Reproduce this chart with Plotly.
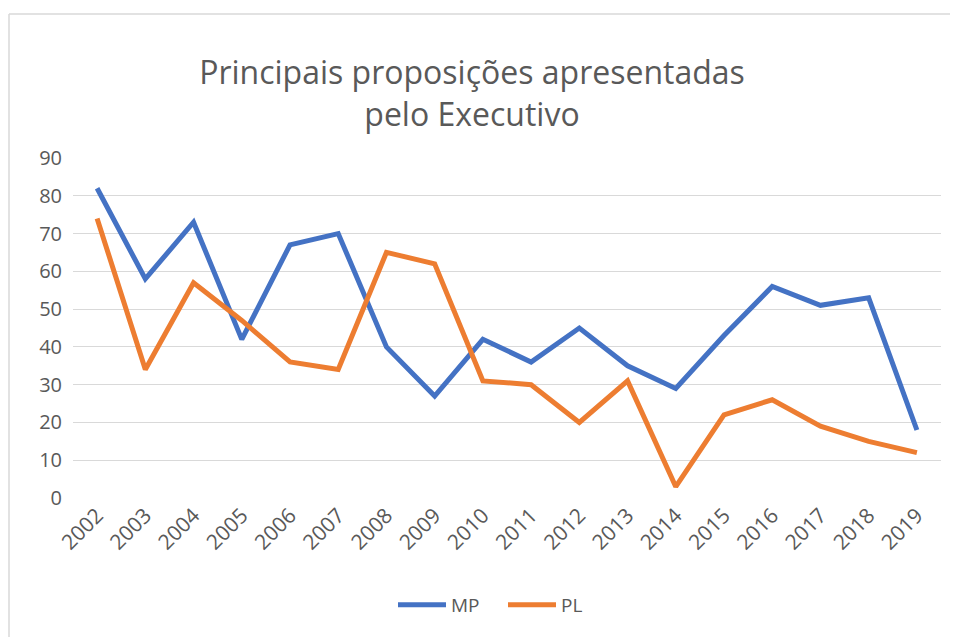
import plotly.graph_objects as go

years = [str(y) for y in range(2002, 2020)]
mp = [82, 58, 73, 42, 67, 70, 40, 27, 42, 36, 45, 35, 29, 43, 56, 51, 53, 18]
pl = [74, 34, 57, 47, 36, 34, 65, 62, 31, 30, 20, 31, 3, 22, 26, 19, 15, 12]
y_ticks = list(range(0, 100, 10))

# page offset of 8px (body margin) compensated
W, H = 950, 629
L, R, T, B = 65, 17, 150, 139
pw, ph = W - L - R, H - T - B
PLOT_LEFT_PAGE, PLOT_BOTTOM_PAGE = 73, 498

fig = go.Figure()
fig.add_trace(go.Scatter(x=years, y=mp, mode="lines", name="MP",
                         line=dict(color="#4472C4", width=5)))
fig.add_trace(go.Scatter(x=years, y=pl, mode="lines", name="PL",
                         line=dict(color="#ED7D31", width=5)))

def px_x(p):
    return (p - PLOT_LEFT_PAGE) / pw

def px_y(p):
    return (PLOT_BOTTOM_PAGE - p) / ph

# outer chart border (left and top edges visible)
border = dict(color="#d9d9d9", width=1.5)
fig.add_shape(type="line", xref="paper", yref="paper",
              x0=px_x(9), x1=px_x(9), y0=px_y(640), y1=px_y(14), line=border, layer="below")
fig.add_shape(type="line", xref="paper", yref="paper",
              x0=px_x(9), x1=px_x(958), y0=px_y(14), y1=px_y(14), line=border, layer="below")

fig.update_layout(
    width=W, height=H,
    margin=dict(l=L, r=R, t=T, b=B, autoexpand=False),
    paper_bgcolor="white", plot_bgcolor="white",
    font=dict(family="Open Sans, sans-serif", color="#595959"),
    title=dict(text="Principais proposições apresentadas<br>pelo Executivo",
               x=464 / W, xanchor="center", xref="container",
               y=1 - 76 / H, yanchor="middle", yref="container",
               font=dict(size=32, color="#595959")),
    showlegend=True,
    legend=dict(orientation="h", x=px_x(393), xanchor="left", y=px_y(605), yanchor="middle",
                itemwidth=48, entrywidth=47, entrywidthmode="pixels",
                font=dict(size=19, color="#595959")),
    xaxis=dict(type="category", range=[-0.5, 17.5], tickangle=-45,
               tickfont=dict(size=21, color="#595959"), showgrid=False,
               showline=False, ticks="", zeroline=False),
    yaxis=dict(range=[0, 90], tickvals=y_ticks, showgrid=True, gridcolor="#d9d9d9",
               gridwidth=1, zeroline=False, showline=False, ticks="",
               tickfont=dict(size=20, color="#595959"), ticklabelstandoff=10),
)

fig.write_html(
    "out.html",
    post_script="document.documentElement.style.overflow='hidden';document.body.style.overflow='hidden';",
)
